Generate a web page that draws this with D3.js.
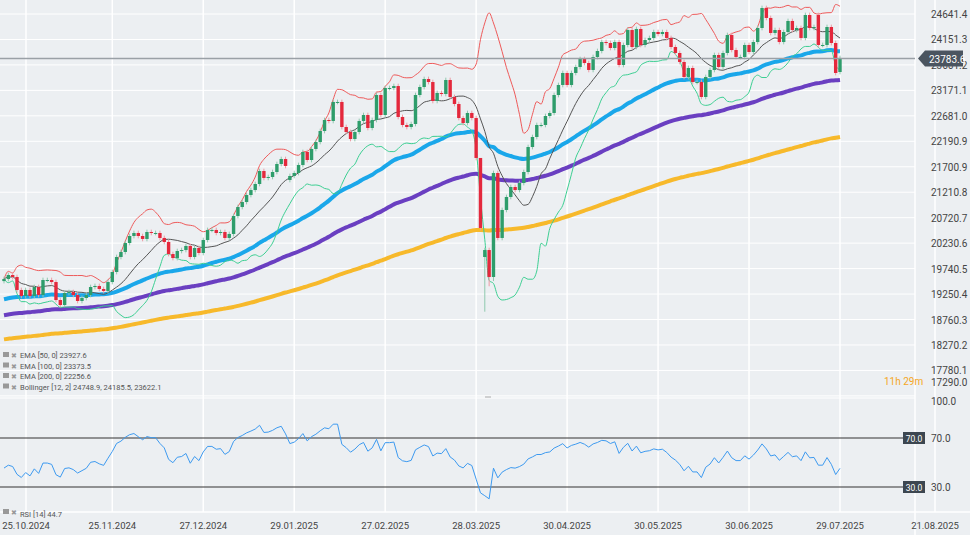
<!DOCTYPE html>
<html>
<head>
<meta charset="utf-8">
<script src="https://cdn.jsdelivr.net/npm/d3@7"></script>
<style>
  body { margin: 0; background: #eceff2; }
  text { font-family: Roboto, "Noto Sans", sans-serif; }
</style>
</head>
<body>
<svg id="chart" width="970" height="535"></svg>
<script>
// daily closes
const closes = [
  19540,19617,19579,19329,19213,19329,19213,19386,19232,19521,
  19521,19482,19136,19040,19271,19290,19232,19117,19175,19232,
  19386,19406,19348,19310,19482,19675,19964,20060,20233,20368,
  20426,20368,20311,20445,20426,20426,20330,20253,20021,19944,
  20079,20098,20176,19964,20137,20041,20291,20484,20484,20426,
  20445,20330,20407,20753,20926,21022,21157,21253,21369,21619,
  21485,21504,21600,21754,21850,21716,21523,21581,21735,21985,
  21831,22043,22177,22389,22601,22582,22948,22948,22466,22370,
  22235,22370,22582,22697,22447,22601,23082,22697,23217,23217,
  23255,22659,22505,22466,22524,23082,23236,23390,23332,22967,
  23121,23101,23371,23044,22909,22639,22543,22736,22639,21870,
  20522,20098,19579,21581,20330,20869,21119,21311,21253,21388,
  21600,22081,22274,22505,22505,22678,22736,23082,23275,23506,
  23275,23506,23621,23775,23698,23564,23814,23929,24102,24083,
  23987,24102,23660,24045,24333,24006,24353,24045,24141,24180,
  24295,24256,24295,24180,24006,23891,23718,23429,23602,23332,
  23332,23044,23429,23564,23852,23621,23891,24237,23948,23814,
  23814,24045,23910,24102,24372,24757,24565,24276,24333,24102,
  24295,24507,24333,24372,24180,24622,24372,24391,24045,24045,
  24391,24083,23506,23795
];
// opens differ from the previous close only where the picture shows a gap
const firstOpen = 19500;
const openGaps = [[66, 21446], [111, 19964], [188, 24622], [193, 23525]];
// wicks longer than usual
const longLows = [[111, 18911], [112, 19400], [113, 19500]];
const longHighs = [[110, 21850]];

const emaSeeds = { 50: 19136, 100: 18828, 200: 18366 };
const rsiSeed = { gain: 60, loss: 72 };

const holidays = ["2024-12-24","2024-12-25","2024-12-26","2024-12-31","2025-01-01",
                  "2025-04-18","2025-04-21","2025-05-01"];
const dateTicks = ["25.10.2024","25.11.2024","27.12.2024","29.01.2025","27.02.2025",
                   "28.03.2025","30.04.2025","30.05.2025","30.06.2025","29.07.2025","21.08.2025"];
const priceTicks = [24641.4,24151.3,23661.2,23171.1,22681.0,22190.9,21700.9,21210.8,
                    20720.7,20230.6,19740.5,19250.4,18760.3,18270.2,17780.1,17290.0];
const rsiTicks = [100, 70, 30];
const lastPrice = 23783.6;
const legend = [
  "EMA [50, 0] 23927.6",
  "EMA [100, 0] 23373.5",
  "EMA [200, 0] 22256.6",
  "Bollinger  [12, 2] 24748.9,  24185.5,  23622.1"
];
const rsiLabel = "RSI [14] 44.7";

// trading days from 21.10.2024
const fmt = d3.timeFormat("%d.%m.%Y"), iso = d3.timeFormat("%Y-%m-%d");
const days = [];
for (let d = new Date(2024, 9, 21); days.length < 240; d = d3.timeDay.offset(d, 1)) {
  if (d.getDay() === 0 || d.getDay() === 6 || holidays.includes(iso(d))) continue;
  days.push(fmt(d));
}

const bars = closes.map((c, i) => {
  let o = i === 0 ? firstOpen : closes[i - 1];
  const g = openGaps.find(e => e[0] === i); if (g) o = g[1];
  let hi = Math.max(o, c) + 45, lo = Math.min(o, c) - 45;
  const L = longLows.find(e => e[0] === i); if (L) lo = L[1];
  const H = longHighs.find(e => e[0] === i); if (H) hi = H[1];
  return { i, o, c, hi, lo };
});

function ema(n) {
  const k = 2 / (n + 1); let v = emaSeeds[n];
  return closes.map(c => (v = v + k * (c - v)));
}
const boll = closes.map((c, i) => {
  const w = closes.slice(Math.max(0, i - 11), i + 1);
  const m = d3.mean(w), s = d3.deviation(w) || 0;
  return { m, u: m + 2 * s, l: m - 2 * s };
});
let ag = rsiSeed.gain, al = rsiSeed.loss;
const rsi = closes.map((c, i) => {
  if (i > 0) {
    const ch = c - closes[i - 1];
    ag = (ag * 13 + Math.max(ch, 0)) / 14;
    al = (al * 13 + Math.max(-ch, 0)) / 14;
  }
  return 100 - 100 / (1 + ag / al);
});

const svg = d3.select("#chart");
const x = d3.scaleLinear().domain([0, 193]).range([4, 840]);
const y = d3.scaleLinear().domain([17290, 24641.4]).range([395.9, 14]);
const yr = d3.scaleLinear().domain([30, 70]).range([487, 438]);
const axisX = 915;

// grid
svg.append("g").selectAll("line").data(priceTicks).join("line")
  .attr("x1", 0).attr("x2", axisX).attr("y1", d => y(d)).attr("y2", d => y(d))
  .attr("stroke", "#fff").attr("stroke-width", 1);
const tickIdx = dateTicks.map(t => days.indexOf(t));
const tickX = tickIdx.map(i => Math.max(26, i > 193 ? 935 : x(i)));
svg.append("g").selectAll("line").data(tickX).join("line")
  .attr("x1", d => d).attr("x2", d => d).attr("y1", 0).attr("y2", 512)
  .attr("stroke", "#fff").attr("stroke-width", 1.5);
svg.append("line").attr("x1", axisX).attr("x2", axisX).attr("y1", 0).attr("y2", 535)
  .attr("stroke", "#fff").attr("stroke-width", 1.5);
svg.append("line").attr("x1", 0).attr("x2", 970).attr("y1", 512).attr("y2", 512)
  .attr("stroke", "#fff").attr("stroke-width", 1.5);

// price axis
svg.append("g").selectAll("text").data(priceTicks).join("text")
  .attr("x", 931).attr("y", d => Math.min(y(d), 382) + 4)
  .attr("font-size", 10).attr("fill", "#444").text(d => d.toFixed(1));

// indicators
const line = d3.line().x((d, i) => x(i)).y(d => y(d)).curve(d3.curveMonotoneX);
[[ema(200), "#f7b92b", 4], [ema(100), "#6a3fc1", 4], [ema(50), "#1aa7ea", 4]].forEach(([s, col, w]) =>
  svg.append("path").attr("d", line(s)).attr("fill", "none").attr("stroke", col).attr("stroke-width", w));
[["u", "#ee5a5a"], ["l", "#3ccf92"], ["m", "#555"]].forEach(([k, col]) =>
  svg.append("path").attr("d", line(boll.map(b => b[k]))).attr("fill", "none")
    .attr("stroke", col).attr("stroke-width", 1));

// candles
const up = "#2e9d6b", dn = "#e4283c";
const cg = svg.append("g").selectAll("g").data(bars).join("g");
cg.append("line").attr("x1", d => x(d.i)).attr("x2", d => x(d.i))
  .attr("y1", d => y(d.hi)).attr("y2", d => y(d.lo))
  .attr("stroke", d => d.c >= d.o ? "#8fc9ae" : "#ee9aa3").attr("stroke-width", 1);
cg.append("rect").attr("x", d => x(d.i) - 1.7).attr("width", 3.4)
  .attr("y", d => y(Math.max(d.o, d.c)))
  .attr("height", d => Math.max(1, Math.abs(y(d.o) - y(d.c))))
  .attr("fill", d => d.c >= d.o ? up : dn);

// last price line + label
svg.append("line").attr("x1", 0).attr("x2", axisX).attr("y1", y(lastPrice)).attr("y2", y(lastPrice))
  .attr("stroke", "#9aa0a6").attr("stroke-width", 1.5);
svg.append("path").attr("d", `M${axisX + 3},${y(lastPrice)} l7,-8 h${963 - axisX - 10} v16 h-${963 - axisX - 10} z`)
  .attr("fill", "#4b5560");
svg.append("text").attr("x", 929).attr("y", y(lastPrice) + 4).attr("font-size", 10)
  .attr("fill", "#fff").text(lastPrice.toFixed(1));

// legend
legend.forEach((t, i) => {
  const ly = 358 + i * 10.5;
  svg.append("rect").attr("x", 3).attr("y", ly - 6).attr("width", 6).attr("height", 5).attr("fill", "#999");
  svg.append("text").attr("x", 11).attr("y", ly).attr("font-size", 7).attr("fill", "#999").text("✖");
  svg.append("text").attr("x", 20).attr("y", ly).attr("font-size", 7.5).attr("fill", "#555").text(t);
});
svg.append("text").attr("x", 884).attr("y", 385).attr("font-size", 10).attr("fill", "#f5a623")
  .text("11h 29m");
svg.append("line").attr("x1", 0).attr("x2", 915).attr("y1", 398).attr("y2", 398)
  .attr("stroke", "#fff").attr("stroke-width", 1);
svg.append("line").attr("x1", 485).attr("x2", 491).attr("y1", 397).attr("y2", 397).attr("stroke", "#aaa");

// RSI
rsiTicks.forEach(v => svg.append("text").attr("x", 931).attr("y", Math.max(yr(v), 400) + 4)
  .attr("font-size", 10).attr("fill", "#444").text(v.toFixed(1)));
[70, 30].forEach(v => {
  svg.append("line").attr("x1", 0).attr("x2", 903).attr("y1", yr(v)).attr("y2", yr(v))
    .attr("stroke", "#333").attr("stroke-width", 1.2);
  svg.append("rect").attr("x", 903).attr("y", yr(v) - 6).attr("width", 22).attr("height", 12).attr("fill", "#3c4650");
  svg.append("text").attr("x", 914).attr("y", yr(v) + 3.5).attr("font-size", 8.5).attr("fill", "#fff")
    .attr("text-anchor", "middle").text(v.toFixed(1));
});
svg.append("path").attr("d", d3.line().x((d, i) => x(i)).y(d => yr(d))(rsi))
  .attr("fill", "none").attr("stroke", "#3d9af0").attr("stroke-width", 1);
svg.append("rect").attr("x", 3).attr("y", 509).attr("width", 6).attr("height", 5).attr("fill", "#999");
svg.append("text").attr("x", 11).attr("y", 515).attr("font-size", 7).attr("fill", "#999").text("✖");
svg.append("text").attr("x", 20).attr("y", 517).attr("font-size", 7.5).attr("fill", "#555").text(rsiLabel);

// date axis
svg.append("g").selectAll("text").data(dateTicks).join("text")
  .attr("x", (d, i) => tickX[i]).attr("y", 529).attr("text-anchor", "middle")
  .attr("font-size", 9.5).attr("fill", "#444").text(d => d);
</script>
</body>
</html>
